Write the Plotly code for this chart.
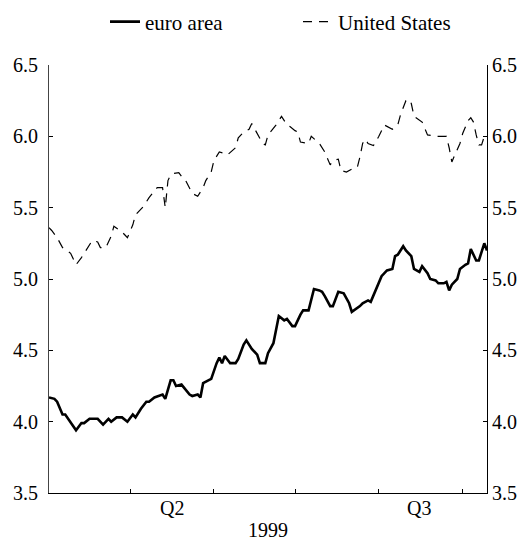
import plotly.graph_objects as go

# ---- data ----
euro_dates = [
    "1999-04-01", "1999-04-03", "1999-04-04", "1999-04-06", "1999-04-07", "1999-04-11", "1999-04-13",
    "1999-04-14", "1999-04-16", "1999-04-19", "1999-04-21", "1999-04-23", "1999-04-24", "1999-04-26",
    "1999-04-28", "1999-04-30",
    "1999-05-02", "1999-05-03", "1999-05-05", "1999-05-07", "1999-05-08", "1999-05-10", "1999-05-13",
    "1999-05-14", "1999-05-16", "1999-05-17", "1999-05-18", "1999-05-20", "1999-05-23", "1999-05-24",
    "1999-05-26", "1999-05-27", "1999-05-28", "1999-05-31",
    "1999-06-02", "1999-06-03", "1999-06-04", "1999-06-05", "1999-06-07", "1999-06-09", "1999-06-10",
    "1999-06-12", "1999-06-13", "1999-06-15", "1999-06-17", "1999-06-18", "1999-06-20", "1999-06-21",
    "1999-06-23", "1999-06-24", "1999-06-25", "1999-06-27", "1999-06-28", "1999-06-30",
    "1999-07-01", "1999-07-03", "1999-07-04", "1999-07-06", "1999-07-07", "1999-07-08", "1999-07-10",
    "1999-07-11", "1999-07-12", "1999-07-14", "1999-07-15", "1999-07-17", "1999-07-19", "1999-07-21",
    "1999-07-22", "1999-07-25", "1999-07-26", "1999-07-28", "1999-07-29", "1999-07-31",
    "1999-08-02", "1999-08-04", "1999-08-06", "1999-08-07", "1999-08-08", "1999-08-10", "1999-08-11",
    "1999-08-13", "1999-08-14", "1999-08-16", "1999-08-17", "1999-08-19", "1999-08-20", "1999-08-22",
    "1999-08-23", "1999-08-25", "1999-08-26", "1999-08-27", "1999-08-28", "1999-08-30", "1999-08-31",
    "1999-09-02", "1999-09-03", "1999-09-04", "1999-09-06", "1999-09-07", "1999-09-09", "1999-09-10",
]
euro_values = [
    4.17, 4.16, 4.14, 4.05, 4.05, 3.94, 3.99, 3.99, 4.02, 4.02, 3.98, 4.02, 4.00, 4.03, 4.03, 4.00,
    4.05, 4.03, 4.09, 4.14, 4.14, 4.17, 4.19, 4.16, 4.29, 4.29, 4.25, 4.26, 4.19, 4.18, 4.19, 4.17, 4.27, 4.30,
    4.41, 4.45, 4.41, 4.46, 4.41, 4.41, 4.44, 4.54, 4.57, 4.51, 4.47, 4.41, 4.41, 4.48, 4.55, 4.64, 4.74, 4.71, 4.72, 4.67,
    4.67, 4.75, 4.78, 4.78, 4.85, 4.93, 4.92, 4.91, 4.88, 4.81, 4.81, 4.91, 4.90, 4.83, 4.77, 4.81, 4.83, 4.85, 4.84, 4.93,
    5.02, 5.06, 5.07, 5.16, 5.17, 5.23, 5.20, 5.16, 5.07, 5.05, 5.09, 5.04, 5.00, 4.99, 4.97, 4.97, 4.98, 4.92, 4.96, 5.00, 5.07,
    5.10, 5.11, 5.21, 5.13, 5.13, 5.25, 5.20,
]

us_dates = [
    "1999-04-01", "1999-04-02", "1999-04-04", "1999-04-06", "1999-04-09", "1999-04-11", "1999-04-13",
    "1999-04-15", "1999-04-17", "1999-04-19", "1999-04-20", "1999-04-22", "1999-04-24", "1999-04-25",
    "1999-04-28", "1999-04-29", "1999-04-30",
    "1999-05-02", "1999-05-03", "1999-05-06", "1999-05-08", "1999-05-11", "1999-05-13", "1999-05-14",
    "1999-05-15", "1999-05-16", "1999-05-17", "1999-05-19", "1999-05-20", "1999-05-21", "1999-05-23",
    "1999-05-24", "1999-05-26", "1999-05-28", "1999-05-29", "1999-05-31",
    "1999-06-01", "1999-06-03", "1999-06-05", "1999-06-06", "1999-06-09", "1999-06-10", "1999-06-12",
    "1999-06-14", "1999-06-15", "1999-06-17", "1999-06-19", "1999-06-20", "1999-06-21", "1999-06-24",
    "1999-06-26", "1999-06-28", "1999-06-29",
    "1999-07-01", "1999-07-02", "1999-07-03", "1999-07-06", "1999-07-07", "1999-07-10", "1999-07-12",
    "1999-07-14", "1999-07-15", "1999-07-17", "1999-07-18", "1999-07-20", "1999-07-22", "1999-07-24",
    "1999-07-25", "1999-07-26", "1999-07-27", "1999-07-28", "1999-07-30",
    "1999-08-01", "1999-08-03", "1999-08-05", "1999-08-06", "1999-08-08", "1999-08-09", "1999-08-11",
    "1999-08-12", "1999-08-13", "1999-08-14", "1999-08-17", "1999-08-19", "1999-08-22", "1999-08-26",
    "1999-08-27", "1999-08-28", "1999-08-29", "1999-08-31",
    "1999-09-01", "1999-09-03", "1999-09-04", "1999-09-05", "1999-09-06", "1999-09-07", "1999-09-08",
    "1999-09-09", "1999-09-10",
]
us_values = [
    5.36, 5.34, 5.29, 5.22, 5.18, 5.10, 5.15, 5.21, 5.27, 5.26, 5.22, 5.22, 5.30, 5.37, 5.33, 5.31, 5.29,
    5.38, 5.45, 5.51, 5.57, 5.64, 5.64, 5.50, 5.69, 5.73, 5.74, 5.745, 5.72, 5.71, 5.64, 5.60, 5.58, 5.64, 5.69, 5.75,
    5.83, 5.89, 5.88, 5.87, 5.92, 5.99, 6.03, 6.05, 6.09, 6.02, 5.95, 5.94, 6.01, 6.08, 6.14, 6.08, 6.07,
    6.04, 6.03, 5.96, 5.95, 6.00, 5.95, 5.89, 5.80, 5.83, 5.84, 5.76, 5.75, 5.77, 5.78, 5.855, 5.95, 5.98, 5.95, 5.935,
    6.00, 6.08, 6.06, 6.05, 6.08, 6.15, 6.25, 6.26, 6.23, 6.14, 6.10, 6.01, 6.00, 6.00, 5.92, 5.82, 5.865, 5.95,
    6.02, 6.11, 6.13, 6.10, 6.01, 5.94, 5.94, 6.00, 6.02,
]

series_names = ["euro area", "United States"]
y_tick_values = [3.5, 4.0, 4.5, 5.0, 5.5, 6.0, 6.5]
y_tick_labels = ["3.5", "4.0", "4.5", "5.0", "5.5", "6.0", "6.5"]
x_range = ["1999-04-01", "1999-09-10"]
quarter_boundaries = ["1999-07-01"]
month_ticks = ["1999-05-01", "1999-06-01", "1999-07-01", "1999-08-01", "1999-09-01"]
quarter_labels = ["Q2", "Q3"]
quarter_label_positions = ["1999-05-16 12:00", "1999-08-16"]
year_label = "1999"

FONT = "Liberation Serif"
tick_font = dict(family=FONT, size=20, color="black")

# page body has an 8px margin, so the figure is sized to fit the 528x541 window
W, H = 520, 533

fig = go.Figure()
fig.add_trace(go.Scatter(
    x=euro_dates, y=euro_values, mode="lines", name=series_names[0],
    line=dict(color="black", width=2.6), yaxis="y",
))
fig.add_trace(go.Scatter(
    x=us_dates, y=us_values, mode="lines", name=series_names[1],
    line=dict(color="black", width=1.2, dash="9px,7px"), yaxis="y2",
))

for lbl, pos in zip(quarter_labels, quarter_label_positions):
    fig.add_annotation(x=pos, y=0, xref="x", yref="paper", yshift=-15, yanchor="middle",
                       text=lbl, showarrow=False, font=tick_font)
fig.add_annotation(x=0.5, y=0, xref="paper", yref="paper", yshift=-37, yanchor="middle",
                   text=year_label, showarrow=False, font=tick_font, borderpad=0)

fig.update_layout(
    width=W, height=H,
    margin=dict(l=41, r=41, t=57, b=48, autoexpand=False),
    paper_bgcolor="white", plot_bgcolor="white",
    font=dict(family=FONT, size=20, color="black"),
    showlegend=True,
    legend=dict(orientation="h", x=97 / W, xanchor="left", xref="container",
                y=1 - 14 / H, yref="container", yanchor="middle",
                font=dict(family=FONT, size=21, color="black"),
                entrywidth=148, bgcolor="rgba(0,0,0,0)"),
    xaxis=dict(
        type="date", range=x_range, showgrid=False, zeroline=False, automargin=False,
        showline=True, linecolor="black", linewidth=1,
        tickmode="array", tickvals=quarter_boundaries, ticktext=[""] * len(quarter_boundaries),
        ticks="inside", ticklen=8, tickwidth=1.5, tickcolor="black",
        minor=dict(tickmode="array", tickvals=month_ticks, ticks="inside", ticklen=4,
                   tickwidth=1, tickcolor="black", showgrid=False),
    ),
    yaxis=dict(
        range=[3.5, 6.5], showgrid=False, zeroline=False, automargin=False,
        showline=True, linecolor="#444", linewidth=1,
        tickmode="array", tickvals=y_tick_values, ticktext=y_tick_labels,
        ticks="inside", ticklen=4, tickcolor="black", tickfont=tick_font,
        ticklabelstandoff=6,
    ),
    yaxis2=dict(
        range=[3.5, 6.5], overlaying="y", side="right", showgrid=False, zeroline=False,
        automargin=False,
        showline=True, linecolor="black", linewidth=1,
        tickmode="array", tickvals=y_tick_values, ticktext=y_tick_labels,
        ticks="inside", ticklen=4, tickcolor="black", tickfont=tick_font,
    ),
)

fig.write_html("out.html")
